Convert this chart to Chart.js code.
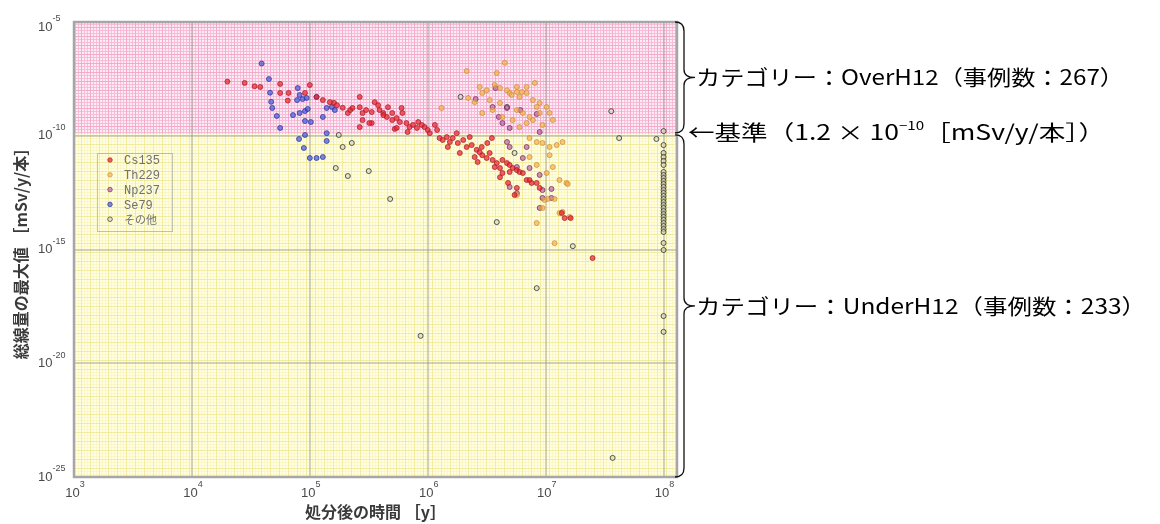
<!DOCTYPE html>
<html>
<head>
<meta charset="utf-8">
<script src="https://cdn.jsdelivr.net/npm/chart.js@4.4.0/dist/chart.umd.min.js"></script>
<style>
  html, body { margin: 0; padding: 0; background: #fff; }
</style>
</head>
<body>
<canvas id="doseChart" width="1160" height="524"></canvas>
<script>
// ===== DATA (x: years after disposal, y: max dose mSv/y/本) =====
const xTicks = [1e3, 1e4, 1e5, 1e6, 1e7, 1e8];
const yTicks = [1e-25, 1e-20, 1e-15, 1e-10, 1e-5];
const threshold = 1.2e-10;

const seriesNames = ["Cs135", "Th229", "Np237", "Se79", "その他"];

const cs135 = [
  [2.0e4,2.4e-8],[2.8e4,2.1e-8],[3.4e4,1.5e-8],[3.8e4,1.4e-8],[5.6e4,1.9e-8],[6.6e4,7.6e-9],[5.6e4,7.6e-9],
  [6.5e4,3.5e-9],[1.0e5,1.7e-8],[9.1e4,7.6e-9],[1.14e5,5.1e-9],[1.6e5,2.8e-9],[1.7e5,2.2e-9],[1.9e5,1.7e-9],
  [2.1e5,1.0e-9],[2.2e5,1.35e-9],[2.65e5,5.1e-9],[2.65e5,1.8e-9],[2.8e5,1.0e-9],[2.8e5,4.9e-10],[3.0e5,1.35e-9],
  [3.35e5,1.1e-9],[3.35e5,3.6e-10],[3.55e5,3.0e-9],[3.8e5,2.2e-9],[3.9e5,1.35e-9],[4.2e5,1.0e-9],[4.5e5,6.7e-10],
  [4.6e5,1.8e-9],[5.0e5,1.0e-9],[5.0e5,4.9e-10],[5.25e5,2.0e-10],[5.45e5,6.0e-10],[5.8e5,4.0e-10],[6.0e5,1.66e-9],
  [6.1e5,1.0e-9],[6.6e5,3.6e-10],[6.75e5,1.46e-10],[7.0e5,2.4e-10],[7.5e5,3.0e-10],[8.1e5,2.2e-10],[8.3e5,4.0e-10],
  [8.9e5,3.0e-10],[9.4e5,2.4e-10],[1.0e6,1.8e-10],[1.04e6,1.3e-10],[1.15e6,3.0e-10],[1.2e6,1.8e-10],
  [1.26e6,7.9e-11],[1.34e6,6.5e-11],[1.45e6,8.8e-11],[1.48e6,3.2e-11],[1.54e6,5.3e-11],[1.63e6,7.9e-11],
  [1.76e6,1.3e-10],[1.8e6,4.8e-11],[1.87e6,1.75e-11],[2.0e6,6.5e-11],[2.14e6,3.2e-11],[2.27e6,8.8e-11],
  [2.36e6,3.9e-11],[2.5e6,1.16e-11],[2.6e6,2.4e-11],[2.65e6,7.0e-12],[2.76e6,1.9e-11],[2.9e6,1.4e-11],
  [3.16e6,1.05e-11],[3.35e6,1.75e-11],[3.55e6,8.6e-12],[3.7e6,4.2e-12],[3.85e6,6.3e-12],[4.1e6,3.8e-12],
  [4.3e6,8.6e-12],[4.7e6,6.3e-12],[4.95e6,5.2e-12],[4.1e6,1.5e-12],[4.3e6,2.3e-12],[4.95e6,2.55e-12],
  [5.25e6,3.8e-12],[5.7e6,3.1e-12],[6.0e6,2.55e-12],[6.4e6,2.3e-12],[6.9e6,1.13e-12],[7.3e6,1.13e-12],
  [7.6e6,8.4e-13],[8.4e6,8.4e-13],[8.9e6,5.1e-13],[4.8e6,8.4e-13],[5.7e6,5.1e-13],[5.45e6,2.5e-13],
  [2.87e6,3.2e-11],[3.2e6,4.8e-11],[3.5e6,7.9e-11],[1.37e7,4.0e-14],[1.45e7,2.4e-14],[1.63e7,2.4e-14],
  [2.5e7,4.2e-16],[1.29e5,3.7e-9],[1.48e5,3.0e-9],[2.3e5,1.66e-9],[2.65e5,2.4e-10],[3.2e5,3.6e-10],
  [5.45e5,2.2e-10],[4.2e5,8.1e-10]
];

const th229 = [
  [2.14e6,7.0e-8],[3.85e6,5.7e-8],[4.5e6,1.6e-7],[2.76e6,1.4e-8],[3.16e6,1.0e-8],[2.9e6,7.6e-9],[3.35e6,3.7e-9],
  [4.1e6,2.75e-9],[4.95e6,7.6e-9],[5.7e6,8.4e-9],[6.0e6,5.1e-9],[6.9e6,7.6e-9],[7.8e6,3.7e-9],[8.9e6,2.75e-9],
  [1.02e7,1.84e-9],[1.08e7,1.0e-9],[1.15e7,4.9e-10],[7.8e6,4.9e-10],[6.9e6,3.6e-10],[6.0e6,2.4e-10],
  [5.25e6,4.9e-10],[4.3e6,6.7e-10],[3.55e6,1.35e-9],[2.5e6,3.0e-9],[2.2e6,4.6e-9],[1.31e6,1.66e-9],
  [8.1e6,2.1e-8],[3.7e6,1.7e-8],[4.1e6,1.25e-8],[4.7e6,1.0e-8],[5.15e6,6.2e-9],[5.7e6,1.4e-8],[6.3e6,8.4e-9],
  [6.9e6,1.4e-8],[8.4e6,1.84e-9],[8.9e6,1.0e-9],[7.3e6,6.7e-10],[9.4e6,3.0e-10],[6.4e6,1.0e-9],[5.7e6,1.35e-9],
  [2.9e6,1.0e-9],[7.3e6,7.9e-11],[8.4e6,5.3e-11],[9.4e6,4.8e-11],[1.08e7,3.2e-11],[1.24e7,3.9e-11],
  [1.39e7,5.3e-11],[1.08e7,1.4e-11],[1.02e7,2.3e-12],[1.15e7,4.2e-12],[1.31e7,1.13e-12],[1.5e7,8.4e-13],
  [7.3e6,1.16e-11],[8.4e6,5.2e-12],[1.39e7,4.5e-14],[1.6e7,2.7e-14],[8.4e6,1.46e-14],[1.54e7,7.6e-13],
  [5.7e6,2.5e-13],[1.04e7,1.66e-13],[1.19e7,1.66e-13],[1.19e7,1.9e-15],[9.8e6,1.5e-13],[9.4e6,6.7e-14],
  [1.31e7,4.0e-14]
];

const np237 = [
  [2.55e6,4.1e-9],[3.76e6,1.25e-8],[3.55e6,1.84e-9],[4.0e6,6.7e-10],[4.7e6,1.66e-9],[6.1e6,1.35e-9],
  [4.95e6,2.2e-10],[8.4e6,9.0e-10],[8.9e6,1.46e-10],[4.3e6,3.6e-10],[4.7e6,5.3e-11],[4.95e6,3.2e-11],
  [6.9e6,3.2e-11],[6.4e6,1.05e-11],[7.3e6,3.8e-12],[8.9e6,1.9e-12],[9.4e6,4.1e-13],[9.4e6,1.84e-13],
  [1.12e7,1.84e-13],[8.9e6,6.7e-14],[5.7e6,4.2e-12],[4.95e6,5.6e-13],[5.7e6,3.0e-13],[1.12e7,4.6e-13]
];

const se79 = [
  [3.9e4,1.5e-7],[4.5e4,3.1e-8],[4.6e4,7.8e-9],[4.7e4,3.1e-9],[4.8e4,1.66e-9],[5.25e4,7.4e-10],[5.6e4,2.2e-10],
  [7.9e4,1.25e-8],[8.2e4,6.2e-9],[7.8e4,3.7e-9],[8.7e4,4.1e-9],[9.4e4,4.6e-9],[7.2e4,8.1e-10],[8.2e4,1.0e-9],
  [9.1e4,1.22e-9],[9.6e4,1.5e-9],[9.1e4,4.45e-10],[1.02e5,4.0e-10],[1.29e5,6.7e-10],[1.39e5,1.66e-9],
  [1.54e5,1.84e-9],[1.63e5,1.35e-9],[1.14e5,5.1e-9],[8.1e4,7.2e-11],[9.1e4,1.08e-10],[8.9e4,2.9e-11],
  [1.0e5,1.05e-11],[1.14e5,1.05e-11],[1.29e5,1.16e-11],[1.39e5,1.3e-10],[1.39e5,5.9e-11]
];

const others = [
  [1.76e5,1.08e-10],[1.9e5,3.2e-11],[2.27e5,4.8e-11],[1.66e5,3.8e-12],[2.1e5,1.7e-12],[3.16e5,2.8e-12],
  [4.8e5,1.66e-13],[1.9e6,5.1e-9],[4.7e6,1.84e-9],[3.6e7,1.2e-9],[3.85e6,1.6e-14],[1.7e7,1.4e-15],
  [8.4e6,2.0e-17],[8.7e5,1.6e-19],[3.7e7,6.9e-25],[4.2e7,7.9e-11],[8.7e7,7.2e-11],[5.45e6,1.75e-11],
  [1e8,1.6e-10],[1e8,3.9e-11],[1e8,1.75e-11],[1e8,1.16e-11],[1e8,7.8e-12],[1e8,5.2e-12],[1e8,2.55e-12],
  [1e8,1.88e-12],[1e8,1.39e-12],[1e8,1.03e-12],[1e8,7.6e-13],[1e8,5.6e-13],[1e8,4.1e-13],[1e8,3.05e-13],
  [1e8,2.25e-13],[1e8,1.66e-13],[1e8,1.22e-13],[1e8,9.0e-14],[1e8,6.7e-14],[1e8,4.9e-14],[1e8,3.6e-14],
  [1e8,2.7e-14],[1e8,2.0e-14],[1e8,1.46e-14],[1e8,1.08e-14],[1e8,7.9e-15],[1e8,5.9e-15],[1e8,1.93e-15],
  [1e8,9.5e-16],[1e8,1.19e-18],[1e8,2.4e-19]
];

// ===== STYLES =====
const fills   = ["rgba(238,32,44,0.72)", "rgba(246,176,60,0.68)", "rgba(176,70,150,0.58)", "rgba(60,80,220,0.68)", "rgba(215,215,190,0.6)"];
const borders = ["rgba(160,30,40,0.8)", "rgba(200,140,70,0.8)", "rgba(110,40,90,0.8)", "rgba(40,50,150,0.8)", "rgba(40,40,40,0.85)"];
const seriesData = [cs135, th229, np237, se79, others];

const annoFont = '"Noto Sans CJK JP", sans-serif';

function makeMesh(ctx, base, fine, coarse) {
  const c = document.createElement("canvas");
  c.width = 9; c.height = 9;
  const g = c.getContext("2d");
  g.fillStyle = base; g.fillRect(0, 0, 9, 9);
  g.fillStyle = fine;
  for (let i = 0; i < 9; i += 3) { g.fillRect(i, 0, 1, 9); g.fillRect(0, i, 9, 1); }
  g.fillStyle = coarse; g.fillRect(0, 0, 1, 9); g.fillRect(0, 0, 9, 1);
  return ctx.createPattern(c, "repeat");
}

// text drawn to a given width (horizontal stretch)
function fitText(ctx, parts, x, y, width) {
  let total = 0;
  parts.forEach(p => { ctx.font = p.size + "px " + annoFont; total += ctx.measureText(p.t).width; });
  const k = width / total;
  ctx.save();
  ctx.translate(x, y);
  ctx.scale(k, 1);
  let cx = 0;
  parts.forEach(p => {
    ctx.font = p.size + "px " + annoFont;
    ctx.fillText(p.t, cx, p.dy || 0);
    cx += ctx.measureText(p.t).width;
  });
  ctx.restore();
}

function brace(ctx, y0, y1, xl, xv, xt) {
  const tip = (y0 + y1) / 2;
  ctx.beginPath();
  ctx.moveTo(xl, y0);
  ctx.quadraticCurveTo(xv, y0, xv, y0 + 9);
  ctx.lineTo(xv, tip - 8);
  ctx.quadraticCurveTo(xv, tip, xt, tip);
  ctx.quadraticCurveTo(xv, tip, xv, tip + 8);
  ctx.lineTo(xv, y1 - 9);
  ctx.quadraticCurveTo(xv, y1, xl, y1);
  ctx.stroke();
  return tip;
}

function powLabel(ctx, exp, x, y, center) {
  ctx.font = '13px "Liberation Sans", Arial, sans-serif';
  const w10 = ctx.measureText("10").width;
  ctx.font = '9px "Liberation Sans", Arial, sans-serif';
  const we = ctx.measureText(exp).width;
  const x0 = center ? x - (w10 + we) / 2 + 1 : x;
  ctx.font = '13px "Liberation Sans", Arial, sans-serif';
  ctx.fillText("10", x0, y);
  ctx.font = '9px "Liberation Sans", Arial, sans-serif';
  ctx.fillText(exp, x0 + w10, y - 8);
}

const decorPlugin = {
  id: "decor",
  beforeDraw(chart) {
    const { ctx, chartArea: a, scales } = chart;
    const yb = scales.y.getPixelForValue(threshold);
    ctx.save();
    ctx.fillStyle = makeMesh(ctx, "#fdecf4", "#f7bdd9", "#f2aacd");
    ctx.fillRect(a.left, a.top, a.right - a.left, yb - a.top);
    ctx.fillStyle = makeMesh(ctx, "#fffee6", "#fbf8c6", "#f3ec9e");
    ctx.fillRect(a.left, yb, a.right - a.left, a.bottom - yb);
    ctx.restore();
  },
  afterDraw(chart) {
    const { ctx, chartArea: a, scales } = chart;
    const yb = scales.y.getPixelForValue(threshold);
    ctx.save();

    // plot frame
    ctx.strokeStyle = "#a6a6a6";
    ctx.lineWidth = 2.5;
    ctx.strokeRect(a.left, a.top, a.right - a.left, a.bottom - a.top);

    // tick labels
    ctx.fillStyle = "#4a4a4a";
    ctx.textBaseline = "middle";
    ctx.textAlign = "left";
    xTicks.forEach(v => {
      const px = scales.x.getPixelForValue(v);
      powLabel(ctx, String(Math.round(Math.log10(v))), px, 493, true);
    });
    yTicks.forEach(v => {
      const py = Math.max(scales.y.getPixelForValue(v), a.top + 5);
      powLabel(ctx, String(Math.round(Math.log10(v))), 38, py, false);
    });

    // axis titles
    ctx.fillStyle = "#3a3a3a";
    ctx.textAlign = "center";
    ctx.font = 'bold 16px ' + annoFont;
    ctx.fillText("処分後の時間 ［y］", (a.left + a.right) / 2, 512);
    ctx.save();
    ctx.translate(21, (a.top + a.bottom) / 2);
    ctx.rotate(-Math.PI / 2);
    ctx.fillText("総線量の最大値 ［mSv/y/本］", 0, 0);
    ctx.restore();

    // legend box
    ctx.setLineDash([1, 1]);
    ctx.strokeStyle = "#8a8a8a";
    ctx.lineWidth = 1;
    ctx.strokeRect(97.5, 153.5, 75, 78);
    ctx.setLineDash([]);
    ctx.textAlign = "left";
    chart.data.datasets.forEach((ds, i) => {
      const ly = 160 + i * 14.8;
      ctx.beginPath();
      ctx.arc(110, ly, 2.3, 0, Math.PI * 2);
      ctx.fillStyle = ds.backgroundColor;
      ctx.fill();
      ctx.strokeStyle = ds.borderColor;
      ctx.lineWidth = 0.8;
      ctx.stroke();
      ctx.fillStyle = "#707070";
      ctx.font = i === 4 ? '11px ' + annoFont : '12px "Liberation Mono", monospace';
      ctx.fillText(ds.label, 124, ly + 1);
    });

    // braces and category notes
    ctx.strokeStyle = "#111";
    ctx.lineWidth = 1.3;
    const t1 = brace(ctx, a.top, yb - 1, 675, 684, 695);
    const t2 = brace(ctx, yb + 1, a.bottom, 675, 684, 695);
    ctx.fillStyle = "#000";
    ctx.textAlign = "left";
    ctx.textBaseline = "middle";
    fitText(ctx, [{ t: "カテゴリー：OverH12（事例数：267）", size: 21 }], 696, t1, 428);
    fitText(ctx, [
      { t: "←基準（1.2 × 10", size: 21 },
      { t: "−10", size: 12, dy: -7 },
      { t: "［mSv/y/本］）", size: 21 }
    ], 688, yb - 2, 417);
    fitText(ctx, [{ t: "カテゴリー：UnderH12（事例数：233）", size: 21 }], 696, t2, 450);

    ctx.restore();
  }
};

const ctx = document.getElementById("doseChart").getContext("2d");

new Chart(ctx, {
  type: "scatter",
  data: {
    datasets: seriesData.map((d, i) => ({
      label: seriesNames[i],
      data: d,
      backgroundColor: fills[i],
      borderColor: borders[i],
      borderWidth: 0.9,
      pointRadius: 2.5,
      pointStyle: "circle"
    }))
  },
  options: {
    responsive: false,
    animation: false,
    devicePixelRatio: 1,
    layout: { padding: { left: 74, right: 483, top: 22, bottom: 47 } },
    plugins: {
      legend: { display: false },
      tooltip: { enabled: false }
    },
    scales: {
      x: {
        type: "logarithmic",
        min: 1e3,
        max: 1.3e8,
        afterBuildTicks: s => { s.ticks = xTicks.map(v => ({ value: v })); },
        ticks: { display: false },
        grid: { color: "rgba(150,150,140,0.42)", lineWidth: 2, drawTicks: false },
        border: { display: false }
      },
      y: {
        type: "logarithmic",
        min: 1e-25,
        max: 1e-5,
        afterBuildTicks: s => { s.ticks = yTicks.map(v => ({ value: v })); },
        ticks: { display: false },
        grid: { color: "rgba(150,150,140,0.42)", lineWidth: 2, drawTicks: false },
        border: { display: false }
      }
    }
  },
  plugins: [decorPlugin]
});
</script>
</body>
</html>
